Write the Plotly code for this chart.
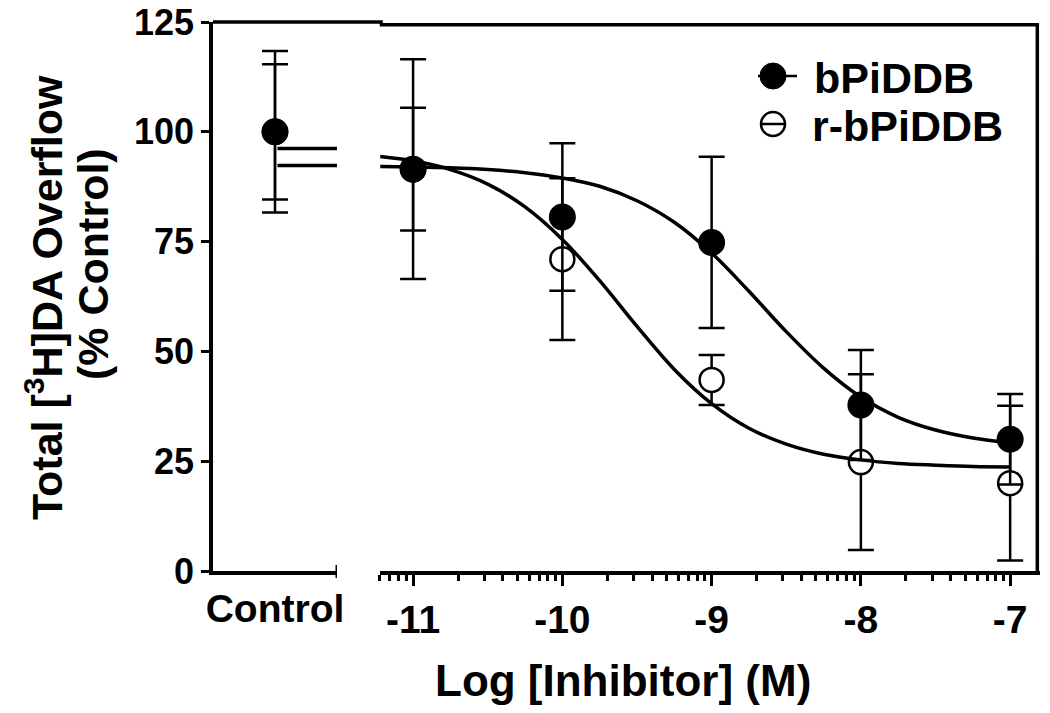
import numpy as np
import plotly.graph_objects as go

# ---------------- data ----------------
log_conc = [-11, -10, -9, -8, -7]
tick_labels = ["-11", "-10", "-9", "-8", "-7"]

bpiddb_mean = [91.5, 80.6, 74.8, 37.8, 30.0]
bpiddb_err = [25.0, 16.8, 19.5, 12.5, 10.3]
rbpiddb_mean = [91.5, 71.0, 43.5, 24.8, 20.0]
rbpiddb_err = [14.0, 18.4, 5.7, 20.0, 17.6]

control_label = ["Control"]
control_bpiddb = [100.0]
control_bpiddb_err = [18.4]
control_rbpiddb = [100.0]
control_rbpiddb_err = [15.4]

# fitted curves
fit_x = [-11.22, -11.0, -10.75, -10.5, -10.25, -10.0, -9.75, -9.5, -9.25, -9.0,
         -8.75, -8.5, -8.25, -8.0, -7.75, -7.5, -7.25, -7.0]
bpiddb_fit = [92.1, 92.0, 91.8, 91.4, 90.7, 89.5, 87.6, 84.3, 79.4, 72.4,
              63.7, 54.5, 46.2, 39.6, 35.0, 32.1, 30.3, 29.2]
rbpiddb_fit = [94.4, 93.4, 91.4, 88.1, 82.9, 75.5, 66.1, 55.7, 45.9, 38.1,
               32.5, 28.9, 26.6, 25.3, 24.5, 24.1, 23.8, 23.7]
# fit plateaus shown in the control segment
bpiddb_top = 92.3
rbpiddb_top = 96.2

y_ticks = [0, 25, 50, 75, 100, 125]

# ---------------- layout constants ----------------
OFF = 8                      # page body margin of the html page
W, H = 1050 - OFF, 713 - OFF
L, R, T, B = 213 - OFF, 10, 22 - OFF, 142
PW = W - L - R
PH = H - T - B
FONT = "Liberation Sans"
Y_MAX = 125
X1_RANGE = [0, 1]
X2_RANGE = [-11.225, -6.80]
CTRL_RIGHT_PX = 337
LOG_LEFT_PX = 379.5
# frame lines on the log segment drawn just inside its edges
FRAME_TOP_Y = Y_MAX - 0.6
FRAME_RIGHT_X = X2_RANGE[1] - 0.018


def px_x(px):
    """screen pixel x -> paper coordinate"""
    return (px - OFF - L) / PW


def px_y(py):
    """screen pixel y -> paper coordinate"""
    return (H - B - (py - OFF)) / PH


CTRL_X = 0.5
CTRL_FIT_X = [0.52, 1.0]

minor_vals = []
for n in range(-12, -7):
    for k in range(2, 10):
        v = n + np.log10(k)
        if -11.23 <= v <= -6.8:
            minor_vals.append(float(v))

fig = go.Figure()

frame_line = dict(color="black", width=3.5)
# frame on the log segment: top and right lines
fig.add_trace(go.Scatter(x=[X2_RANGE[0], FRAME_RIGHT_X, FRAME_RIGHT_X],
                         y=[FRAME_TOP_Y, FRAME_TOP_Y, 0],
                         xaxis="x2", yaxis="y", mode="lines", line=frame_line,
                         showlegend=False, hoverinfo="skip"))

# r-bPiDDB (open)
fig.add_trace(go.Scatter(
    x=log_conc, y=rbpiddb_mean, xaxis="x2", yaxis="y", mode="markers",
    marker=dict(symbol="circle", size=24, color="white",
                line=dict(color="black", width=2.5)),
    error_y=dict(type="data", array=rbpiddb_err, visible=True,
                 color="black", thickness=2.5, width=13),
    name="r-bPiDDB"))
fig.add_trace(go.Scatter(
    x=[CTRL_X], y=control_rbpiddb, xaxis="x", yaxis="y", mode="markers",
    marker=dict(symbol="circle", size=24, color="white",
                line=dict(color="black", width=2.5)),
    error_y=dict(type="data", array=control_rbpiddb_err, visible=True,
                 color="black", thickness=2.5, width=13),
    showlegend=False))

# bPiDDB (filled)
fig.add_trace(go.Scatter(
    x=log_conc, y=bpiddb_mean, xaxis="x2", yaxis="y", mode="markers",
    marker=dict(symbol="circle", size=27, color="black"),
    error_y=dict(type="data", array=bpiddb_err, visible=True,
                 color="black", thickness=2.5, width=13),
    name="bPiDDB"))
fig.add_trace(go.Scatter(
    x=[CTRL_X], y=control_bpiddb, xaxis="x", yaxis="y", mode="markers",
    marker=dict(symbol="circle", size=27, color="black"),
    error_y=dict(type="data", array=control_bpiddb_err, visible=True,
                 color="black", thickness=2.5, width=13),
    showlegend=False))

# fitted curves
for fy in (bpiddb_fit, rbpiddb_fit):
    fig.add_trace(go.Scatter(
        x=fit_x, y=fy, xaxis="x2", yaxis="y", mode="lines",
        line=dict(color="black", width=3.5, shape="spline", smoothing=1.0),
        showlegend=False, hoverinfo="skip"))
for top in (bpiddb_top, rbpiddb_top):
    fig.add_trace(go.Scatter(
        x=CTRL_FIT_X, y=[top, top], xaxis="x", yaxis="y", mode="lines",
        line=dict(color="black", width=3.5),
        showlegend=False, hoverinfo="skip"))

tickfont_x = dict(family=FONT, size=39, color="black", weight="bold")
tickfont_y = dict(family=FONT, size=36, color="black", weight="bold")

fig.update_layout(
    width=W, height=H,
    margin=dict(l=L, r=R, t=T, b=B, pad=0, autoexpand=False),
    paper_bgcolor="white", plot_bgcolor="white",
    showlegend=False,
    xaxis=dict(domain=[0, px_x(CTRL_RIGHT_PX)], range=X1_RANGE, anchor="y",
               automargin=False, ticklabeloverflow="allow",
               showline=True, linecolor="black", linewidth=3.5,
               tickvals=[CTRL_X], ticktext=control_label, ticks="",
               showgrid=False, zeroline=False, tickfont=tickfont_x),
    xaxis2=dict(domain=[px_x(LOG_LEFT_PX), 1], range=X2_RANGE, anchor="y",
                automargin=False, ticklabeloverflow="allow",
                showline=True, linecolor="black", linewidth=3.5,
                tickvals=log_conc, ticktext=tick_labels,
                ticks="outside", ticklen=11, tickwidth=3, tickcolor="black",
                minor=dict(tickvals=minor_vals, ticks="outside", ticklen=6,
                           tickwidth=2.5, tickcolor="black"),
                showgrid=False, zeroline=False, tickfont=tickfont_x),
    yaxis=dict(range=[0, Y_MAX], anchor="x", automargin=False,
               ticklabeloverflow="allow",
               showline=True, linecolor="black", linewidth=3.5,
               tickvals=y_ticks, ticks="outside", ticklen=8, tickwidth=3,
               tickcolor="black", showgrid=False, zeroline=False,
               tickfont=tickfont_y),
)

line_k = dict(color="black", width=3.5)
shapes = [
    # frame top over the control segment and the axis break
    dict(type="line", xref="paper", yref="paper", x0=0,
         x1=px_x(LOG_LEFT_PX) + 0.004, y0=1, y1=1, line=line_k),
    # end tick of control segment
    dict(type="line", xref="x", yref="paper", x0=1, x1=1,
         y0=-7 / PH, y1=6 / PH, line=dict(color="black", width=3)),
]

# legend symbols
lx = px_x(773)
ly1, ly2 = px_y(76), px_y(124)
shapes += [
    dict(type="line", xref="paper", yref="paper", x0=px_x(758), x1=px_x(797),
         y0=ly1, y1=ly1, line=dict(color="black", width=2.5)),
    dict(type="circle", xref="paper", yref="paper", xsizemode="pixel",
         ysizemode="pixel", xanchor=lx, yanchor=ly1, x0=-13, x1=13, y0=-13, y1=13,
         fillcolor="black", line=dict(color="black", width=1)),
    dict(type="circle", xref="paper", yref="paper", xsizemode="pixel",
         ysizemode="pixel", xanchor=lx, yanchor=ly2, x0=-12, x1=12, y0=-12, y1=12,
         fillcolor="white", line=dict(color="black", width=2.5)),
    dict(type="line", xref="paper", yref="paper", x0=px_x(761), x1=px_x(785),
         y0=ly2, y1=ly2, line=dict(color="black", width=2.5)),
]
fig.update_layout(shapes=shapes)

ann_font = dict(family=FONT, size=43, color="black", weight="bold")
annotations = [
    dict(text="bPiDDB", xref="paper", yref="paper", x=px_x(812), y=px_y(78),
         xanchor="left", yanchor="middle", showarrow=False, font=ann_font),
    dict(text="r-bPiDDB", xref="paper", yref="paper", x=px_x(810), y=px_y(126),
         xanchor="left", yanchor="middle", showarrow=False, font=ann_font),
    dict(text="Log [Inhibitor] (M)", xref="paper", yref="paper",
         x=px_x(623), y=px_y(680), xanchor="center", yanchor="middle",
         showarrow=False, font=dict(family=FONT, size=44, color="black", weight="bold")),
    dict(text="Total [<sup>3</sup>H]DA Overflow", xref="paper", yref="paper",
         x=px_x(44), y=px_y(298), xanchor="center", yanchor="middle",
         textangle=-90, showarrow=False, font=ann_font),
    dict(text="(% Control)", xref="paper", yref="paper",
         x=px_x(93), y=px_y(264), xanchor="center", yanchor="middle",
         textangle=-90, showarrow=False, font=ann_font),
]
fig.update_layout(annotations=annotations)

fig.write_html("out.html")
